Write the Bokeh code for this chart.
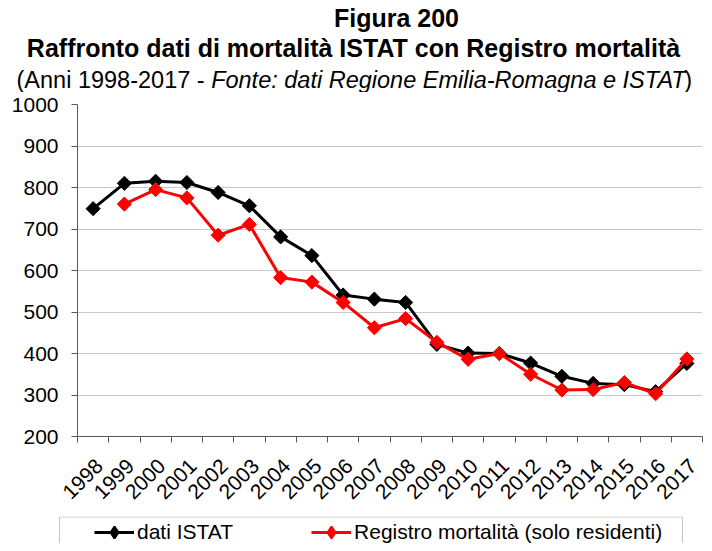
import numpy as np
from bokeh.plotting import figure
from bokeh.layouts import column
from bokeh.models import (Range1d, FixedTicker, Label, Legend, LegendItem, BoxAnnotation)
from bokeh.embed import file_html
from bokeh.resources import INLINE

# ---- data ----
years = ["1998", "1999", "2000", "2001", "2002", "2003", "2004", "2005", "2006", "2007",
         "2008", "2009", "2010", "2011", "2012", "2013", "2014", "2015", "2016", "2017"]
istat = [749, 810, 815, 812, 788, 756, 681, 636, 541, 531,
         523, 422, 401, 400, 377, 345, 328, 325, 308, 376]
registro = [np.nan, 760, 795, 775, 685, 711, 583, 572, 523, 462,
            484, 427, 386, 400, 350, 312, 313, 330, 303, 387]
y_ticks = [200, 300, 400, 500, 600, 700, 800, 900, 1000]

title1 = "Figura 200"
title2 = "Raffronto dati di mortalità ISTAT con Registro mortalità"
sub_a = "(Anni 1998-2017 - "
sub_b = "Fonte: dati Regione Emilia-Romagna e ISTAT"
sub_c = ")"
name_istat = "dati ISTAT"
name_reg = "Registro mortalità (solo residenti)"

FONT = "Liberation Sans"
W = 704
H_TITLE, H_MAIN, H_LEG = 92, 424, 27


def blank(h, flip=True):
    f = figure(width=W, height=h, output_backend="svg", toolbar_location=None,
               x_range=Range1d(0, W), y_range=Range1d(h, 0) if flip else Range1d(0, h),
               min_border=0, min_border_left=0, min_border_right=0,
               min_border_top=0, min_border_bottom=0)
    f.frame_align = False
    f.axis.visible = False
    f.grid.visible = False
    f.outline_line_color = None
    f.background_fill_color = "white"
    f.border_fill_color = "white"
    return f


# ---- title block ----
pt = blank(H_TITLE)
pt.add_layout(Label(x=396, y=17, text=title1, text_align="center", text_baseline="middle",
                    text_font=FONT, text_font_size="25px", text_font_style="bold",
                    text_color="black"))
pt.add_layout(Label(x=353, y=47, text=title2, text_align="center", text_baseline="middle",
                    text_font=FONT, text_font_size="25px", text_font_style="bold",
                    text_color="black"))
FS3 = 23.5
x0 = 16
w_a = 8.282 * FS3
w_b = 20.341 * FS3
pt.add_layout(Label(x=x0, y=79, text=sub_a, text_align="left", text_baseline="middle",
                    text_font=FONT, text_font_size=f"{FS3}px", text_color="black"))
pt.add_layout(Label(x=x0 + w_a, y=79, text=sub_b, text_align="left", text_baseline="middle",
                    text_font=FONT, text_font_size=f"{FS3}px", text_font_style="italic",
                    text_color="black"))
pt.add_layout(Label(x=x0 + w_a + w_b - 5, y=79, text=sub_c, text_align="left",
                    text_baseline="middle", text_font=FONT, text_font_size=f"{FS3}px",
                    text_color="black"))

# ---- main chart ----
xpos = np.arange(len(years)) + 0.5

p = figure(width=W, height=H_MAIN, output_backend="svg", toolbar_location=None,
           x_range=Range1d(0, len(years)), y_range=Range1d(200, 1000),
           min_border_left=77, min_border_right=2, min_border_top=12, min_border_bottom=80)
p.frame_align = False
p.outline_line_color = None
p.background_fill_color = "white"
p.border_fill_color = "white"

p.xgrid.grid_line_color = None
p.ygrid.grid_line_color = "#c8c8c8"
p.ygrid.grid_line_width = 1
p.ygrid.ticker = FixedTicker(ticks=y_ticks)

p.yaxis.ticker = FixedTicker(ticks=y_ticks)
p.yaxis.axis_line_color = "#595959"
p.yaxis.major_tick_line_color = "#595959"
p.yaxis.major_tick_out = 6
p.yaxis.major_tick_in = 0
p.yaxis.minor_tick_line_color = None
p.yaxis.major_label_standoff = 13
p.yaxis.major_label_text_font = FONT
p.yaxis.major_label_text_font_size = "21px"
p.yaxis.major_label_text_color = "black"

label_pos = xpos + 0.2
p.xaxis.ticker = FixedTicker(ticks=list(label_pos), minor_ticks=list(range(len(years) + 1)))
p.xaxis.major_label_overrides = {float(x): y for x, y in zip(label_pos, years)}
p.xaxis.axis_line_color = "#595959"
p.xaxis.major_tick_line_color = None
p.xaxis.major_tick_out = 0
p.xaxis.minor_tick_line_color = "#595959"
p.xaxis.minor_tick_out = 6
p.xaxis.minor_tick_in = 0
p.xaxis.major_label_orientation = np.pi / 4
p.xaxis.major_label_standoff = 20
p.xaxis.major_label_text_font = FONT
p.xaxis.major_label_text_font_size = "21px"
p.xaxis.major_label_text_color = "black"

p.line(xpos, istat, line_color="black", line_width=3)
p.scatter(xpos, istat, marker="square", angle=np.pi / 4, size=10,
          fill_color="black", line_color="black")
p.line(xpos, registro, line_color="#ff0000", line_width=3)
p.scatter(xpos, registro, marker="square", angle=np.pi / 4, size=10,
          fill_color="#ff0000", line_color="#ff0000")

# ---- legend strip (legend glyph proxies carry no visible data) ----
pl = blank(H_LEG, flip=False)
pl.add_layout(BoxAnnotation(left=59, right=682, top=26.5, bottom=-20,
                            fill_color="white", fill_alpha=1.0,
                            line_color="#404040", line_width=1))
nan_x, nan_y = [np.nan], [np.nan]
la = pl.line(x=nan_x, y=nan_y, line_color="black", line_width=3)
ma = pl.scatter(x=nan_x, y=nan_y, marker="diamond", size=12,
                fill_color="black", line_color="black", line_width=2)
lb = pl.line(x=nan_x, y=nan_y, line_color="#ff0000", line_width=3)
mb = pl.scatter(x=nan_x, y=nan_y, marker="diamond", size=12,
                fill_color="#ff0000", line_color="#ff0000", line_width=2)
legend = Legend(items=[LegendItem(label=name_istat, renderers=[la, ma]),
                       LegendItem(label=name_reg, renderers=[lb, mb])],
                orientation="horizontal", location=(94, -4),
                border_line_color=None, background_fill_alpha=0,
                padding=2, margin=0, spacing=78, label_standoff=3,
                glyph_width=40, glyph_height=30, label_height=20,
                label_text_font=FONT, label_text_font_size="21px",
                label_text_color="black")
pl.add_layout(legend)

layout = column(pt, p, pl, spacing=0)
open("out.html", "w").write(file_html(layout, INLINE))
